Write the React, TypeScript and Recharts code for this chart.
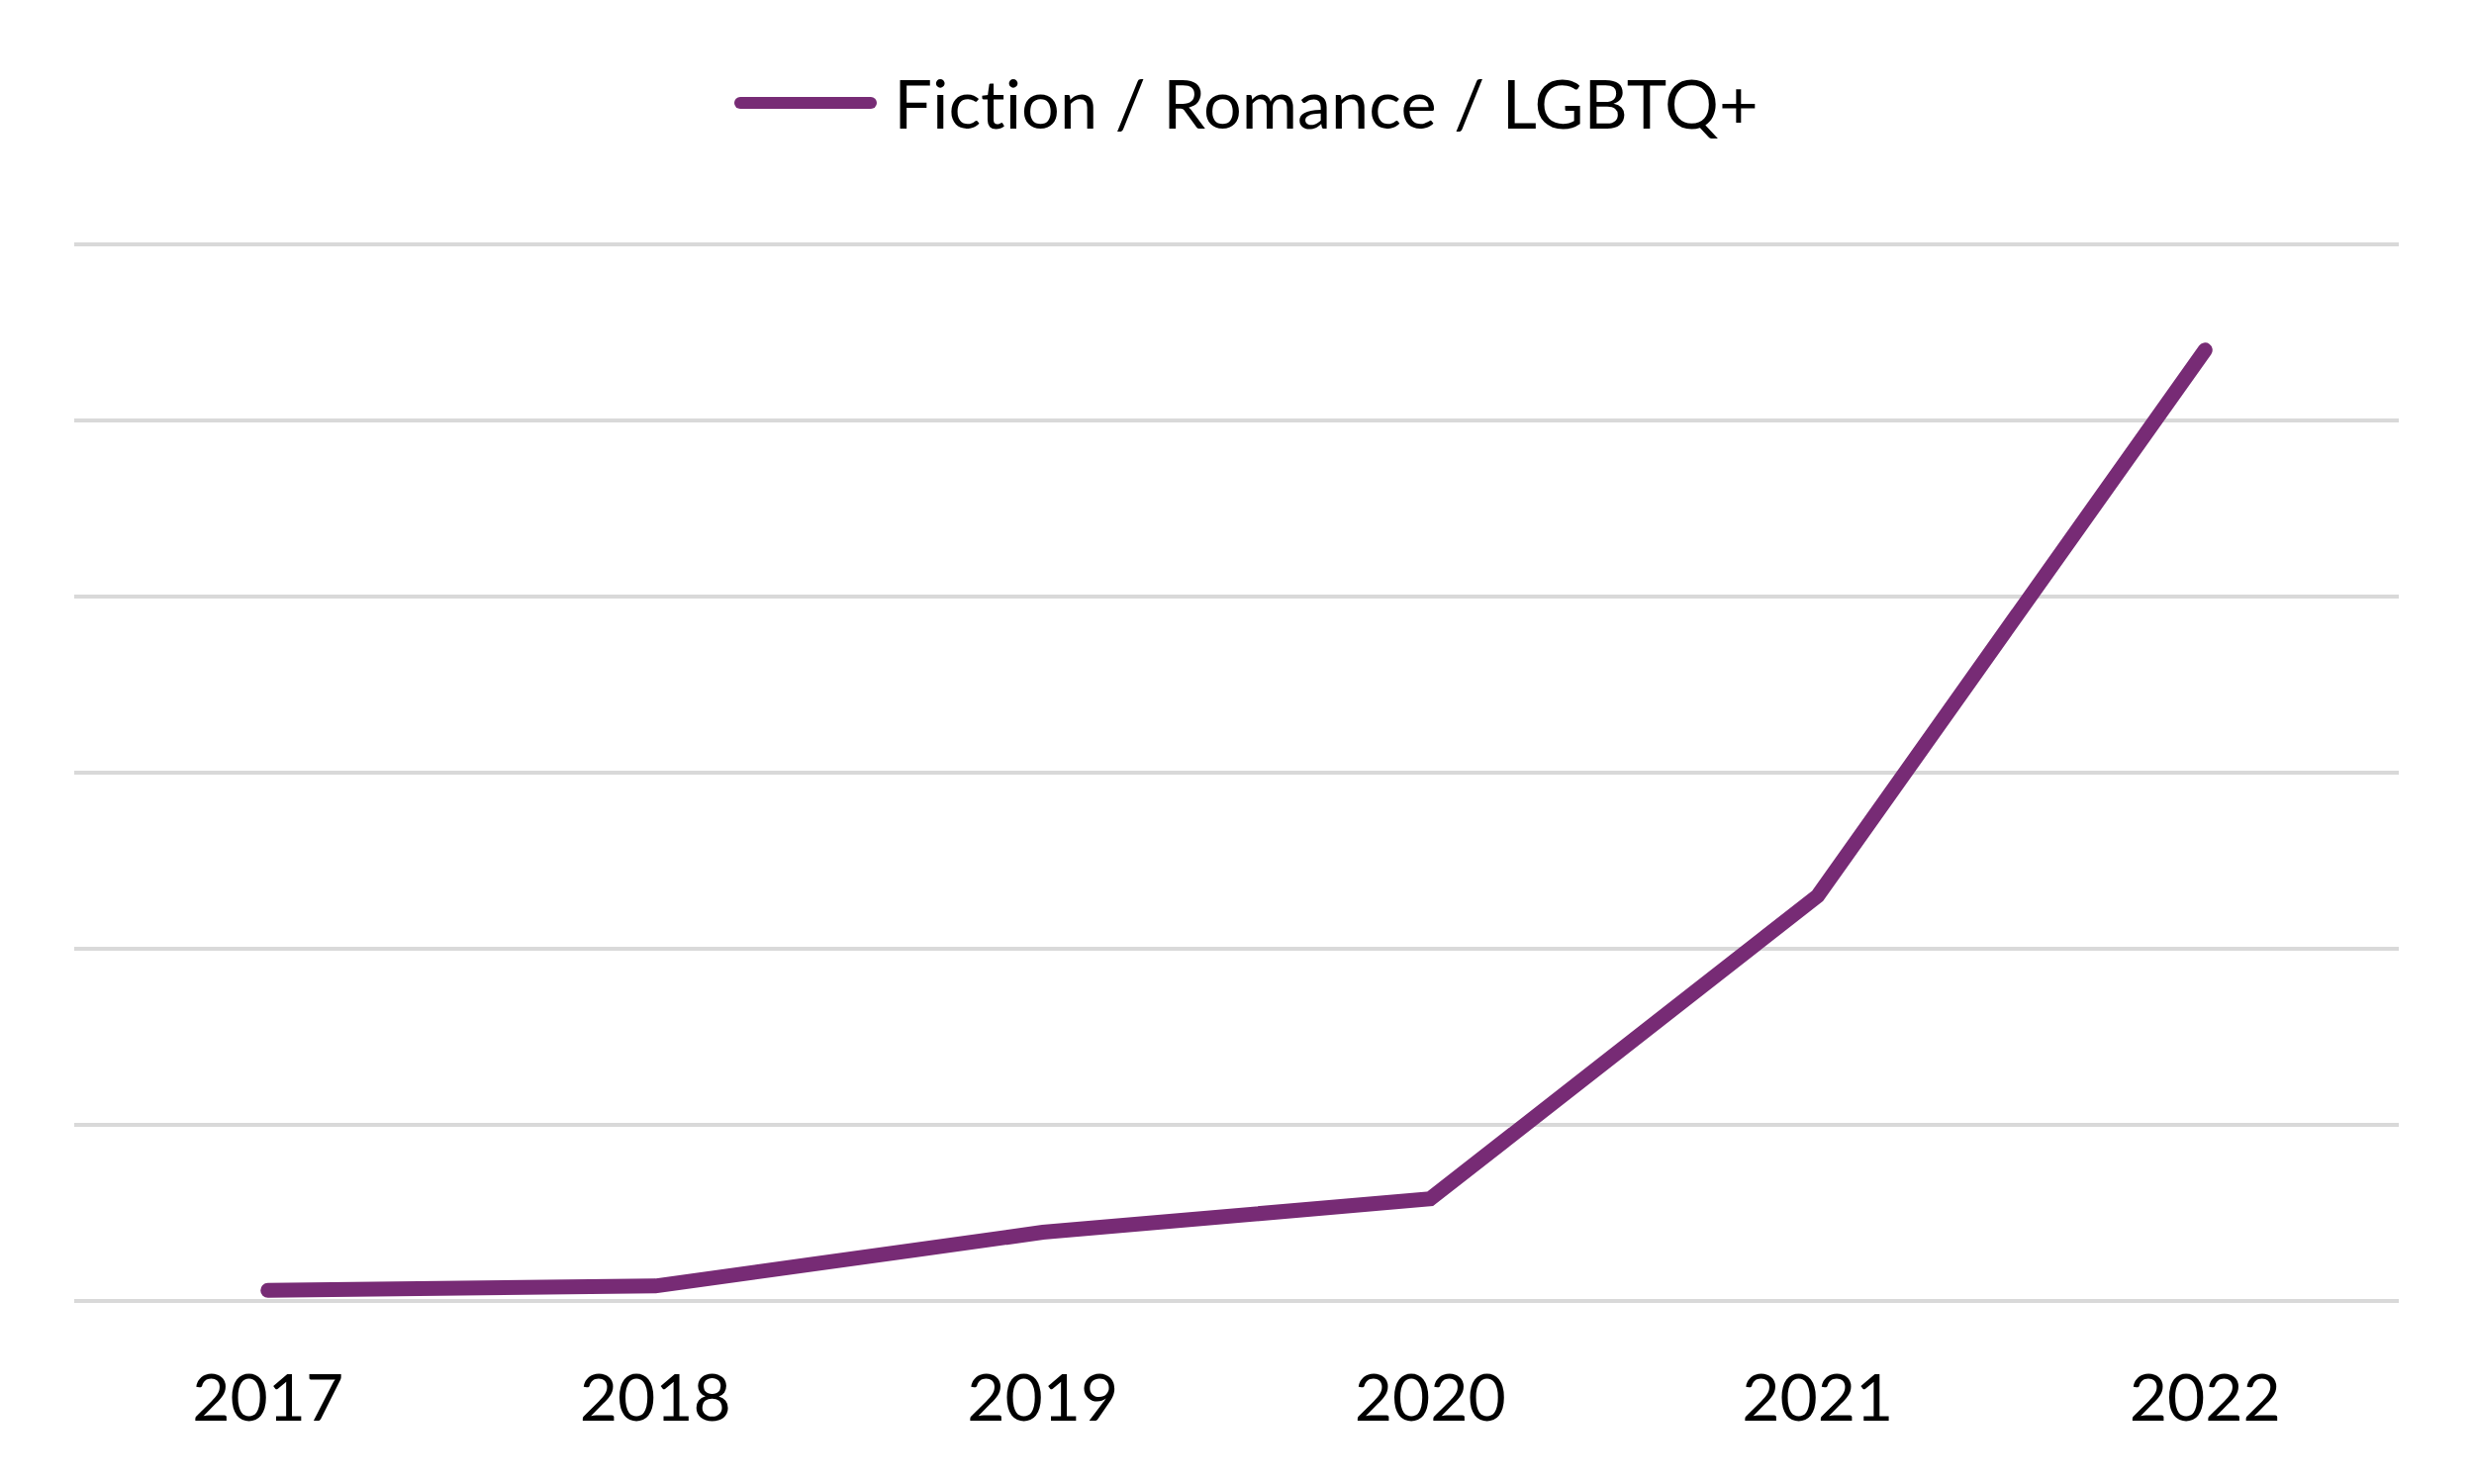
import { LineChart, Line, XAxis, YAxis, CartesianGrid, Legend } from 'recharts';

const years = ['2017', '2018', '2019', '2020', '2021', '2022'];
const romanceLgbtq = [0.6, 0.85, 3.9, 5.8, 23.0, 54.0];
const yTicks = [0, 10, 20, 30, 40, 50, 60];

const seriesName = 'Fiction / Romance / LGBTQ+';
const purple = '#772B75';
const font = 'Lato, "Open Sans", sans-serif';

const chartData = years.map((year, i) => ({ year, value: romanceLgbtq[i] }));

function LegendContent({ payload }: any) {
  return (
    <div
      style={{
        display: 'flex',
        justifyContent: 'center',
        alignItems: 'center',
        height: 208,
        paddingLeft: 18,
        fontFamily: font,
        fontSize: 68.5,
        lineHeight: 1.2,
        color: '#000',
        fontVariantLigatures: 'none',
      }}
    >
      {(payload || []).map((entry: any) => (
        <div key={entry.value} style={{ display: 'flex', alignItems: 'center' }}>
          <svg width={146} height={14} style={{ marginRight: 16 }}>
            <line x1={7} y1={7} x2={139} y2={7} stroke={entry.color} strokeWidth={12} strokeLinecap="round" />
          </svg>
          <span>{entry.value}</span>
        </div>
      ))}
    </div>
  );
}

export default function App() {
  return (
    <div style={{ position: 'absolute', left: 0, top: 0, background: '#fff' }}>
      {/* legend box (208px) sits inside the top margin, so plot top lands at 247 */}
      <LineChart
        width={2500}
        height={1500}
        data={chartData}
        margin={{ top: 39, right: 76, bottom: 65, left: 75 }}
      >
        <CartesianGrid vertical={false} stroke="#D9D9D9" strokeWidth={4} />
        <XAxis
          dataKey="year"
          axisLine={false}
          tickLine={false}
          tickMargin={68}
          height={120}
          tick={{ fill: '#000', fontSize: 66, fontFamily: font }}
          interval={0}
          scale="band"
        />
        <YAxis hide domain={[0, 60]} ticks={yTicks} />
        <Legend
          verticalAlign="top"
          height={208}
          content={<LegendContent />}
          wrapperStyle={{ top: 0, left: 0, width: 2500 }}
        />
        <Line
          type="linear"
          dataKey="value"
          name={seriesName}
          stroke={purple}
          strokeWidth={15}
          strokeLinecap="round"
          dot={false}
          activeDot={false}
          isAnimationActive={false}
        />
      </LineChart>
    </div>
  );
}
